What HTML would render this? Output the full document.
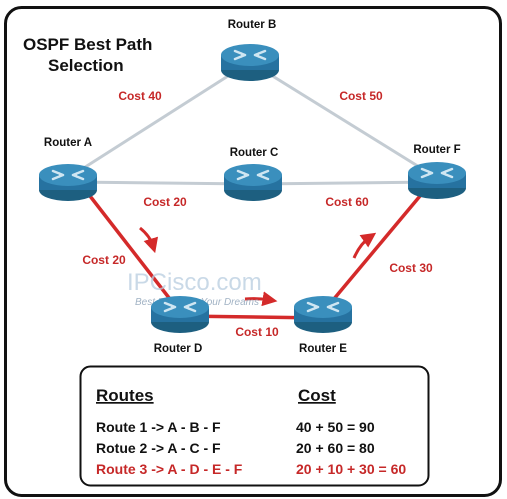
<!DOCTYPE html>
<html><head><meta charset="utf-8"><style>
html,body{margin:0;padding:0;background:#fff;}
svg{display:block;font-family:"Liberation Sans",Arial,sans-serif;font-weight:bold;}
</style></head><body>
<svg width="507" height="499" viewBox="0 0 507 499" xmlns="http://www.w3.org/2000/svg">
<defs>
<g id="r">
  <ellipse cx="0" cy="10" rx="29" ry="11" fill="#1d5f80"/>
  <rect x="-29" y="-5" width="58" height="15" fill="#2672a0"/>
  <ellipse cx="0" cy="-5" rx="29" ry="11" fill="#3a8fbd"/>
  <g stroke="#cfe6f2" stroke-width="2.5" fill="none" stroke-linecap="round">
    <path d="M-15 -9 L-5 -5 M-15 -1 L-5 -5"/>
    <path d="M15 -9 L5 -5 M15 -1 L5 -5"/>
  </g>
  <path d="M-5 -5 l-4 -3 v6z M5 -5 l4 -3 v6z" fill="#cfe6f2"/>
</g>
<marker id="ah" markerWidth="5" markerHeight="5" refX="2.5" refY="2.5" orient="auto"><path d="M0 0 L5 2.5 L0 5z" fill="#d42a2a"/></marker>
</defs>
<rect x="5.5" y="7.5" width="495" height="488" rx="16" fill="#fff" stroke="#111" stroke-width="3"/>
<text x="23" y="50" font-size="17" fill="#111">OSPF Best Path</text>
<text x="48" y="71" font-size="17" fill="#111">Selection</text>
<g stroke="#c4ccd3" stroke-width="3">
<line x1="68" y1="178" x2="250" y2="62"/>
<line x1="250" y1="62" x2="437" y2="178"/>
<line x1="68" y1="182" x2="253" y2="184"/>
<line x1="253" y1="184" x2="437" y2="182"/>
</g>
<g stroke="#d42a2a" stroke-width="3.5">
<line x1="90" y1="196" x2="180" y2="312"/>
<line x1="180" y1="316" x2="323" y2="318"/>
<line x1="323" y1="312" x2="420" y2="196"/>
</g>
<g stroke="#d42a2a" stroke-width="3" fill="none" marker-end="url(#ah)">
<path d="M140 228 Q150 236 153 246"/>
<path d="M245 299 Q258 298 270 300"/>
<path d="M354 258 Q360 244 370 237"/>
</g>
<text x="127" y="290" font-size="24" fill="#b8cde0" font-weight="normal" opacity="0.75">IPCisco.com</text>
<text x="135" y="305" font-size="10" fill="#8aa0b6" font-style="italic" font-weight="normal" opacity="0.8">Best Route To Your Dreams</text>
<use href="#r" x="250" y="60"/>
<use href="#r" x="68" y="180"/>
<use href="#r" x="253" y="180"/>
<use href="#r" x="437" y="178"/>
<use href="#r" x="180" y="312"/>
<use href="#r" x="323" y="312"/>
<g font-size="11.5" fill="#111" text-anchor="middle">
<text x="252" y="28">Router B</text>
<text x="68" y="146">Router A</text>
<text x="254" y="156">Router C</text>
<text x="437" y="153">Router F</text>
<text x="178" y="352">Router D</text>
<text x="323" y="352">Router E</text>
</g>
<g font-size="12" fill="#c62828" text-anchor="middle">
<text x="140" y="100">Cost 40</text>
<text x="361" y="100">Cost 50</text>
<text x="165" y="206">Cost 20</text>
<text x="347" y="206">Cost 60</text>
<text x="104" y="264">Cost 20</text>
<text x="257" y="336">Cost 10</text>
<text x="411" y="272">Cost 30</text>
</g>
<rect x="80.5" y="366.5" width="348" height="119" rx="10" fill="#fff" stroke="#111" stroke-width="2"/>
<text x="96" y="401" font-size="17" fill="#111" text-decoration="underline">Routes</text>
<text x="298" y="401" font-size="17" fill="#111" text-decoration="underline">Cost</text>
<g font-size="14">
<text x="96" y="432" fill="#111">Route 1 -&gt; A - B - F</text>
<text x="96" y="453" fill="#111">Rotue 2 -&gt; A - C - F</text>
<text x="96" y="474" fill="#c62828">Route 3 -&gt; A - D - E - F</text>
<text x="296" y="432" fill="#111">40 + 50 = 90</text>
<text x="296" y="453" fill="#111">20 + 60 = 80</text>
<text x="296" y="474" fill="#c62828">20 + 10 + 30 = 60</text>
</g>
</svg>
</body></html>
